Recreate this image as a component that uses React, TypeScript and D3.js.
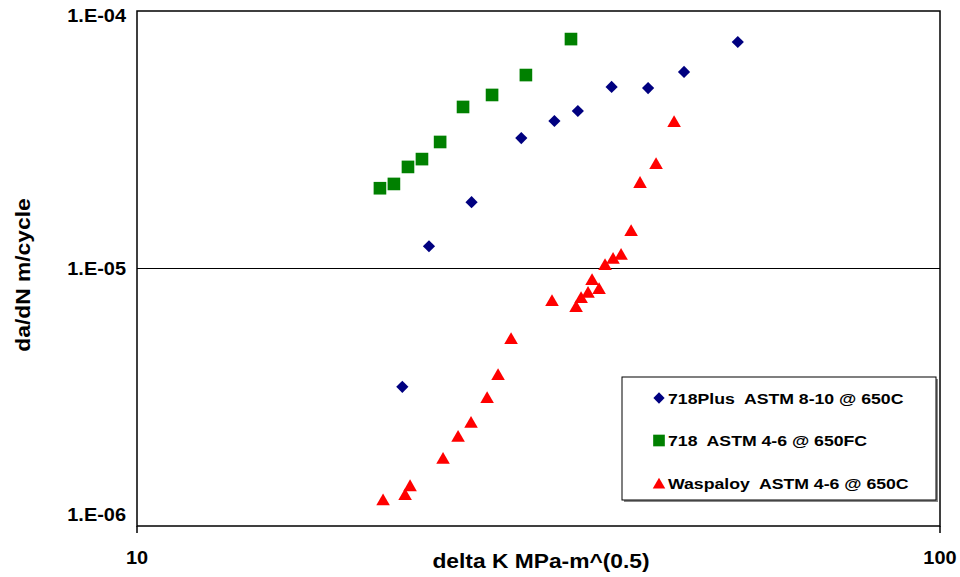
import React, { useEffect, useRef } from "react";
import * as d3 from "d3";

// 718Plus ASTM 8-10 @ 650C
const plusDK = [21.4, 23.1, 26.1, 30.1, 33.1, 35.4, 39.0, 43.3, 48.0, 56.0];
const plusRate = [3.47e-6, 1.22e-5, 1.81e-5, 3.21e-5, 3.74e-5, 4.09e-5, 5.07e-5, 5.02e-5, 5.8e-5, 7.58e-5];

// 718 ASTM 4-6 @ 650FC
const alloy718DK = [20.07, 20.89, 21.75, 22.64, 23.85, 25.47, 27.68, 30.5, 34.71];
const alloy718Rate = [2.05e-5, 2.13e-5, 2.48e-5, 2.66e-5, 3.1e-5, 4.24e-5, 4.72e-5, 5.64e-5, 7.78e-5];

// Waspaloy ASTM 4-6 @ 650C
const waspDK = [20.25, 21.57, 21.88, 24.05, 25.11, 26.06, 27.29, 28.16, 29.23, 32.87, 35.22, 35.73, 36.45, 36.87, 37.62, 38.27, 39.16, 40.07, 41.24, 42.31, 44.3, 46.65];
const waspRate = [1.27e-6, 1.33e-6, 1.44e-6, 1.84e-6, 2.24e-6, 2.54e-6, 3.17e-6, 3.89e-6, 5.37e-6, 7.54e-6, 7.15e-6, 7.75e-6, 8.11e-6, 9.1e-6, 8.4e-6, 1.041e-5, 1.099e-5, 1.139e-5, 1.411e-5, 2.168e-5, 2.569e-5, 3.74e-5];

const xTicks = [10, 100];
const yTicks = [1e-6, 1e-5, 1e-4];

const seriesNames = ["718Plus  ASTM 8-10 @ 650C", "718  ASTM 4-6 @ 650FC", "Waspaloy  ASTM 4-6 @ 650C"];
const seriesColors = ["#000080", "#008000", "#ff0000"];
const seriesSymbols = [d3.symbolDiamond2, d3.symbolSquare, d3.symbolTriangle];

const FONT = "Arial, 'Liberation Sans', sans-serif";
const STRETCH = 1.14; // the original text is rendered a bit wide

export default function App() {
  const ref = useRef<SVGSVGElement>(null);

  useEffect(() => {
    const svg = d3.select(ref.current);
    svg.selectAll("*").remove();

    const left = 137, right = 940, top = 11, bottom = 526;

    const x = d3.scaleLog().domain([10, 100]).range([left, right]);
    const y = d3.scaleLog().domain([1e-6, 1e-4]).range([bottom, top]);

    // gridline at 1E-05
    svg.append("line")
      .attr("x1", left).attr("x2", right)
      .attr("y1", y(1e-5)).attr("y2", y(1e-5))
      .attr("stroke", "#000").attr("stroke-width", 1);

    // plot border
    svg.append("rect")
      .attr("x", left).attr("y", top)
      .attr("width", right - left).attr("height", bottom - top)
      .attr("fill", "none").attr("stroke", "#000").attr("stroke-width", 1.5);

    // x ticks
    svg.selectAll(".xt").data(xTicks).enter().append("line")
      .attr("x1", d => x(d)).attr("x2", d => x(d))
      .attr("y1", bottom).attr("y2", bottom + 7)
      .attr("stroke", "#000").attr("stroke-width", 1.5);

    svg.selectAll(".xl").data(xTicks).enter().append("text")
      .attr("transform", d => `translate(${x(d)},564) scale(${STRETCH},1)`)
      .attr("text-anchor", "middle")
      .style("font", `bold 17.5px ${FONT}`)
      .text(d => String(d));

    // y tick labels; the end ones are kept inside the plot height
    svg.selectAll(".yl").data(yTicks).enter().append("text")
      .attr("transform", d => `translate(126,${Math.max(22, Math.min(521, y(d) + 6.5))}) scale(${STRETCH},1)`)
      .attr("text-anchor", "end")
      .style("font", `bold 17.5px ${FONT}`)
      .text(d => "1.E-0" + Math.round(-Math.log10(d)));

    // axis titles
    svg.append("text")
      .attr("transform", `translate(541,568) scale(${STRETCH},1)`)
      .attr("text-anchor", "middle")
      .style("font", `bold 20px ${FONT}`)
      .text("delta K MPa-m^(0.5)");

    svg.append("text")
      .attr("transform", `translate(30,275) rotate(-90) scale(${STRETCH},1)`)
      .attr("text-anchor", "middle")
      .style("font", `bold 20px ${FONT}`)
      .text("da/dN m/cycle");

    const series = [
      { xs: plusDK, ys: plusRate, size: 95, dy: 0 },
      { xs: alloy718DK, ys: alloy718Rate, size: 160, dy: 0 },
      { xs: waspDK, ys: waspRate, size: 80, dy: 2 },
    ];

    series.forEach((s, i) => {
      const sym = d3.symbol().type(seriesSymbols[i]).size(s.size);
      svg.append("g").selectAll("path")
        .data(s.xs.map((v, j) => [v, s.ys[j]]))
        .enter().append("path")
        .attr("d", sym)
        .attr("transform", d => `translate(${x(d[0])},${y(d[1]) + s.dy})`)
        .attr("fill", seriesColors[i]);
    });

    // legend
    const lg = svg.append("g");
    lg.append("rect")
      .attr("x", 624).attr("y", 379).attr("width", 314).attr("height", 123)
      .attr("fill", "#888");
    lg.append("rect")
      .attr("x", 622).attr("y", 377).attr("width", 314).attr("height", 123)
      .attr("fill", "#fff").attr("stroke", "#000").attr("stroke-width", 1);

    seriesNames.forEach((name, i) => {
      const cy = 398 + i * 42.5;
      const sym = d3.symbol().type(seriesSymbols[i]).size(series[i].size * 0.85);
      lg.append("path")
        .attr("d", sym)
        .attr("transform", `translate(${659},${cy + series[i].dy})`)
        .attr("fill", seriesColors[i]);
      lg.append("text")
        .attr("transform", `translate(668,${cy + 5.5}) scale(${STRETCH},1)`)
        .style("font", `bold 15.5px ${FONT}`)
        .style("white-space", "pre")
        .text(name);
    });
  }, []);

  return (
    <svg ref={ref} width={960} height={577} style={{ position: "absolute", left: 0, top: 0, background: "#fff" }} />
  );
}
